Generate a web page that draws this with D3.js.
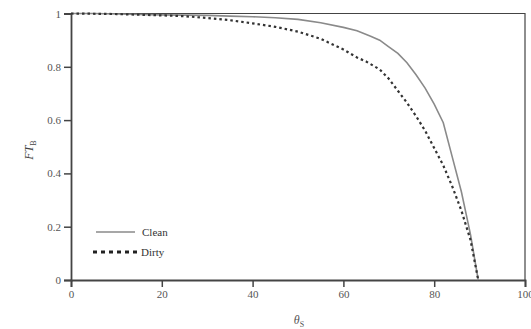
<!DOCTYPE html>
<html>
<head>
<meta charset="utf-8">
<script src="https://cdn.jsdelivr.net/npm/d3@7"></script>
<style>
  body { margin: 0; background: #fff; }
  text { font-family: "Liberation Serif", "DejaVu Serif", serif; }
</style>
</head>
<body>
<div id="chart"></div>
<script>
// angle values (theta_S)
const thetaClean = [0, 5, 10, 15, 20, 25, 30, 35, 40, 45, 50, 55, 60, 63, 66, 68, 70, 72, 74, 76, 78, 80, 82, 84, 86, 88, 89.7];
const ftClean    = [1, 1, 0.998, 0.996, 0.995, 0.994, 0.993, 0.99, 0.988, 0.984, 0.978, 0.965, 0.948, 0.935, 0.915, 0.9, 0.875, 0.85, 0.815, 0.77, 0.72, 0.66, 0.59, 0.46, 0.33, 0.17, 0];
const thetaDirty = [0, 10, 20, 25, 30, 35, 40, 45, 50, 55, 60, 63, 65, 68, 70, 72, 74, 76, 78, 80, 82, 84, 86, 88, 89.7];
const ftDirty    = [1, 0.998, 0.993, 0.99, 0.983, 0.975, 0.963, 0.95, 0.932, 0.905, 0.865, 0.835, 0.82, 0.79, 0.755, 0.71, 0.665, 0.615, 0.56, 0.495, 0.43, 0.35, 0.26, 0.15, 0];
const xTicks = [0, 20, 40, 60, 80, 100];
const yTicks = [0, 0.2, 0.4, 0.6, 0.8, 1];
const seriesNames = ["Clean", "Dirty"];

const W = 531, H = 329;
const margin = {left: 71, right: 6, top: 13.5, bottom: 49};

const svg = d3.select("#chart").append("svg")
  .attr("width", W).attr("height", H);

const xScale = d3.scaleLinear().domain([0, 100]).range([margin.left, W - margin.right]);
const yScale = d3.scaleLinear().domain([0, 1]).range([H - margin.bottom, margin.top]);

// frame top + right
svg.append("path")
  .attr("d", `M${xScale(0)},${yScale(1)}H${xScale(100)}V${yScale(0)}`)
  .attr("fill", "none").attr("stroke", "#444").attr("stroke-width", 1.2);

// axes
let xAxis = d3.axisBottom(xScale).tickValues(xTicks).tickSize(7).tickPadding(3).tickFormat(d3.format("d"));
let yAxis = d3.axisLeft(yScale).tickValues(yTicks).tickSize(7).tickPadding(3).tickFormat(d => d === 0 || d === 1 ? d : d.toFixed(1));

let gx = svg.append("g").attr("transform", `translate(0,${yScale(0)})`).call(xAxis);
let gy = svg.append("g").attr("transform", `translate(${xScale(0)},0)`).call(yAxis);
[gx, gy].forEach(g => {
  g.select(".domain").attr("stroke", "#444").attr("stroke-width", 1.8);
  g.selectAll(".tick line").attr("stroke", "#444").attr("stroke-width", 1.5);
  g.selectAll(".tick text").attr("fill", "#555").style("font-size", "11px")
    .style("font-family", "'Liberation Serif', serif");
});

// curves
const line = d3.line().x(d => xScale(d[0])).y(d => yScale(d[1]));
const cleanData = thetaClean.map((t, i) => [t, ftClean[i]]);
const dirtyData = thetaDirty.map((t, i) => [t, ftDirty[i]]);

svg.append("path").datum(cleanData)
  .attr("d", line).attr("fill", "none")
  .attr("stroke", "#8a8a8a").attr("stroke-width", 1.6);

svg.append("path").datum(dirtyData)
  .attr("d", line).attr("fill", "none")
  .attr("stroke", "#333").attr("stroke-width", 2.2)
  .attr("stroke-dasharray", "2.5,3");

// legend
let legend = svg.append("g");
legend.append("line").attr("x1", 96).attr("x2", 135).attr("y1", 232).attr("y2", 232)
  .attr("stroke", "#8a8a8a").attr("stroke-width", 1.6);
legend.append("line").attr("x1", 93).attr("x2", 137).attr("y1", 252).attr("y2", 252)
  .attr("stroke", "#222").attr("stroke-width", 3).attr("stroke-dasharray", "4,4");
legend.selectAll("text.lg").data(seriesNames).join("text")
  .attr("class", "lg")
  .attr("x", (d, i) => i === 0 ? 142 : 141)
  .attr("y", (d, i) => i === 0 ? 236 : 256)
  .attr("fill", "#333").style("font-size", "11px")
  .text(d => d);

// axis labels
svg.append("text")
  .attr("transform", "translate(33,150) rotate(-90)")
  .attr("text-anchor", "middle").attr("fill", "#444")
  .style("font-size", "12px").style("font-style", "italic")
  .html("FT<tspan dy='3' font-size='8px' font-style='normal'>B</tspan>");

svg.append("text")
  .attr("x", 299).attr("y", 324)
  .attr("text-anchor", "middle").attr("fill", "#555")
  .style("font-size", "12px").style("font-style", "italic")
  .html("θ<tspan dy='3' font-size='8px' font-style='normal'>S</tspan>");
</script>
</body>
</html>
